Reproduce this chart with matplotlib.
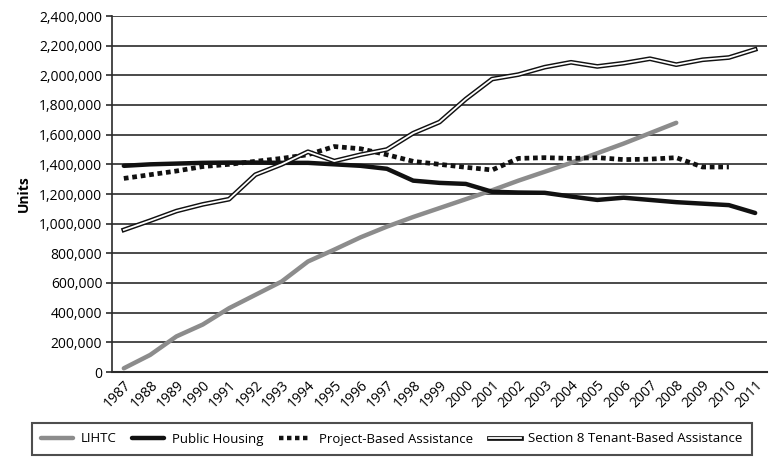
import matplotlib
matplotlib.use('Agg')
import matplotlib.pyplot as plt
from matplotlib.lines import Line2D
from matplotlib.ticker import FuncFormatter

years = list(range(1987, 2012))

lihtc = [25000, 115000, 240000, 320000, 430000, 520000, 610000, 745000, 825000,
         908000, 980000, 1045000, 1105000, 1165000, 1225000, 1290000, 1350000,
         1410000, 1475000, 1540000, 1610000, 1680000]
public_housing = [1390000, 1400000, 1405000, 1410000, 1412000, 1412000, 1410000,
                  1410000, 1400000, 1390000, 1370000, 1290000, 1275000, 1268000,
                  1215000, 1210000, 1208000, 1183000, 1160000, 1175000, 1160000,
                  1145000, 1135000, 1125000, 1072000]
project_based = [1305000, 1330000, 1355000, 1385000, 1400000, 1420000, 1440000,
                 1465000, 1520000, 1505000, 1465000, 1420000, 1400000, 1380000,
                 1362000, 1440000, 1445000, 1440000, 1445000, 1432000, 1435000,
                 1445000, 1382000, 1382000]
section8 = [958000, 1020000, 1085000, 1130000, 1165000, 1330000, 1400000, 1485000,
            1422000, 1465000, 1500000, 1610000, 1685000, 1840000, 1975000,
            2005000, 2055000, 2088000, 2060000, 2082000, 2112000, 2072000,
            2105000, 2120000, 2175000]

series_names = ['LIHTC', 'Public Housing', 'Project-Based Assistance',
                'Section 8 Tenant-Based Assistance']

plt.rcParams['font.family'] = ['Open Sans', 'DejaVu Sans']

fig = plt.figure(figsize=(7.84, 4.71), dpi=100)
ax = fig.add_axes([112 / 784, 1 - 372 / 471, (767 - 112) / 784, (372 - 16) / 471])

x = list(range(len(years)))

for v in range(200000, 2400001, 200000):
    ax.axhline(v, color='#2b2b2b', lw=1.2, zorder=1)

ax.plot(x[:len(lihtc)], lihtc, color='#8c8c8c', lw=3.2, solid_capstyle='round', zorder=3)
ax.plot(x, public_housing, color='#111111', lw=3.2, solid_capstyle='round', zorder=4)
ax.plot(x[:len(project_based)], project_based, color='#111111', lw=3.4,
        dashes=(1.0, 0.8), dash_capstyle='butt', zorder=5)
ax.plot(x, section8, color='#111111', lw=3.4, zorder=6)
ax.plot(x, section8, color='white', lw=1.3, zorder=7)

ax.set_xlim(-0.45, len(years) - 0.55)
ax.set_ylim(0, 2400000)
ax.set_yticks(range(0, 2400001, 200000))
ax.yaxis.set_major_formatter(FuncFormatter(lambda v, p: f'{int(v):,}'))
ax.set_xticks(x)
ax.set_xticklabels([str(y) for y in years], rotation=45, ha='right',
                   rotation_mode='anchor')
ax.tick_params(axis='y', length=4, width=1.2, color='#2b2b2b', labelsize=10, pad=3)
ax.tick_params(axis='x', length=0, labelsize=10, pad=4)

for s in ['top', 'right']:
    ax.spines[s].set_visible(False)
ax.spines['left'].set_color('#2b2b2b')
ax.spines['left'].set_linewidth(1.2)
ax.spines['bottom'].set_color('#2b2b2b')
ax.spines['bottom'].set_linewidth(1.5)

ax.set_ylabel('Units', fontsize=10, fontweight='bold', labelpad=6)

h1 = Line2D([], [], color='#8c8c8c', lw=3.2, solid_capstyle='round')
h2 = Line2D([], [], color='#111111', lw=3.2, solid_capstyle='round')
h3 = Line2D([], [], color='#111111', lw=3.2, dashes=(1.0, 0.8))
h4a = Line2D([], [], color='#111111', lw=3.4)
h4b = Line2D([], [], color='white', lw=1.3)

leg = fig.legend([h1, h2, h3, (h4a, h4b)], series_names, ncol=4,
                 loc='center', bbox_to_anchor=(392 / 784, 1 - 439 / 471),
                 frameon=True, fancybox=False, edgecolor='#222222',
                 fontsize=9.5, handlelength=2.4, columnspacing=1.2,
                 handletextpad=0.6, borderpad=0.7)
leg.get_frame().set_linewidth(1.5)

fig.savefig('out.png', dpi=100)
